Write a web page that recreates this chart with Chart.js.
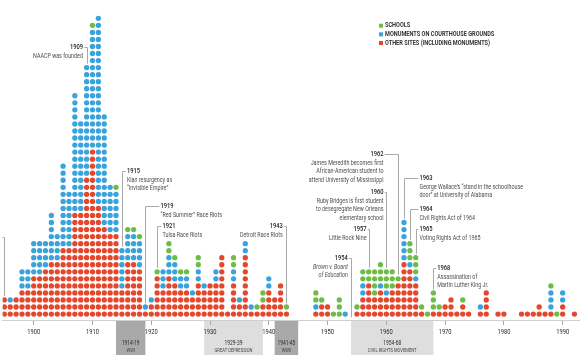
<!DOCTYPE html>
<html>
<head>
<meta charset="utf-8">
<script src="https://cdn.jsdelivr.net/npm/chart.js@4.4.1/dist/chart.umd.min.js"></script>
<style>
html,body{margin:0;padding:0;background:#ffffff;overflow:hidden;}
canvas{display:block;}
</style>
</head>
<body>
<canvas id="chart" width="582" height="360"></canvas>
<script>
// ---------------- DATA ----------------
const years = [1895,1896,1897,1898,1899,
  1900,1901,1902,1903,1904,1905,1906,1907,1908,1909,
  1910,1911,1912,1913,1914,1915,1916,1917,1918,1919,
  1920,1921,1922,1923,1924,1925,1926,1927,1928,1929,
  1930,1931,1932,1933,1934,1935,1936,1937,1938,1939,
  1940,1941,1942,1943,1944,1945,1946,1947,1948,1949,
  1950,1951,1952,1953,1954,1955,1956,1957,1958,1959,
  1960,1961,1962,1963,1964,1965,1966,1967,1968,1969,
  1970,1971,1972,1973,1974,1975,1976,1977,1978,1979,
  1980,1981,1982,1983,1984,1985,1986,1987,1988,1989,
  1990,1991,1992];
const otherSites = [3,2,3,4,4,
  6,6,7,8,8,10,10,15,15,20,
  24,16,13,12,12,4,8,8,7,1,
  2,6,4,6,5,4,4,3,5,4,
  5,5,9,1,5,2,9,1,1,2,
  4,3,5,1,0,0,0,0,1,2,
  2,0,0,0,0,1,3,5,3,4,
  3,4,5,8,7,5,1,0,1,1,
  2,3,1,2,1,0,1,4,0,1,
  1,0,0,1,1,1,2,1,1,0,
  2,0,1];
const courthouse = [0,1,0,3,3,
  5,5,4,7,4,12,8,17,13,16,
  17,27,16,7,6,6,4,4,4,1,
  1,0,3,3,3,2,2,1,2,1,
  0,2,0,0,2,1,2,1,0,0,
  2,0,0,0,0,0,0,0,1,0,
  0,0,0,1,0,0,2,0,0,1,
  1,0,0,6,1,1,0,0,0,0,
  0,0,0,0,0,0,1,0,0,0,
  0,0,0,0,0,0,0,0,3,0,
  2,0,0];
const schools = [0,0,0,0,0,
  0,0,0,0,0,0,0,0,0,0,
  1,0,0,0,1,0,1,1,1,0,
  0,1,0,2,1,1,1,0,2,0,
  0,0,0,0,2,0,0,0,1,2,
  0,0,0,1,0,0,0,0,2,1,
  0,1,3,0,0,1,2,2,4,3,
  3,3,1,0,3,3,1,1,3,1,
  0,0,0,1,0,0,0,0,0,0,
  0,0,0,0,0,0,0,0,1,1,
  0,0,0];
const tickYears = [1900,1910,1920,1930,1940,1950,1960,1970,1980,1990];
const seriesNames = ['SCHOOLS','MONUMENTS ON COURTHOUSE GROUNDS','OTHER SITES (INCLUDING MONUMENTS)'];
const periodRanges = ['1914-19','1929-39','1941-45','1954-68'];
const periodNames = ['WWI','GREAT DEPRESSION','WWII','CIVIL RIGHTS MOVEMENT'];
const periodStart = [1914,1929,1941,1954];
const periodEnd = [1919,1939,1945,1968];
const eventYears = [1895,1909,1915,1919,1921,1943,1954,1957,1960,1962,1963,1964,1965,1968];
const eventTitles = ['','1909','1915','1919','1921','1943','1954','1957','1960','1962','1963','1964','1965','1968'];
const eventTexts = [
  [],
  ['NAACP was founded'],
  ['Klan resurgency as','“Invisible Empire”'],
  ['“Red Summer” Race Riots'],
  ['Tulsa Race Riots'],
  ['Detroit Race Riots'],
  ['Brown v. Board','of Education'],
  ['Little Rock Nine'],
  ['Ruby Bridges is first student','to desegregate New Orleans','elementary school'],
  ['James Meredith becomes first','African-American student to','attend University of Mississippi'],
  ['George Wallace’s “stand in the schoolhouse','door” at University of Alabama'],
  ['Civil Rights Act of 1964'],
  ['Voting Rights Act of 1965'],
  ['Assassination of','Martin Luther King Jr.']
];

// ---------------- STYLE / LAYOUT ----------------
const C_GREEN = '#6cbd45', C_BLUE = '#38a3dc', C_RED = '#e4472c';
const FAM = 'Roboto, "Liberation Sans", sans-serif';
// side: -1 text left of the leader line, +1 right; gap in px; level = title height in dot rows
const eventLayout = {
  1895:{side:-1,gap:3,level:12.0},
  1909:{side:-1,gap:4.5,level:38.9},
  1915:{side:1,gap:4.4,level:21.3},
  1919:{side:1,gap:15,level:16.35},
  1921:{side:1,gap:5,level:13.5},
  1943:{side:-1,gap:3.7,level:13.5},
  1954:{side:-1,gap:3.7,level:9.0,italic:true},
  1957:{side:-1,gap:3,level:13.1},
  1960:{side:-1,gap:3,level:18.3},
  1962:{side:-1,gap:15,level:23.8},
  1963:{side:1,gap:15,level:20.3},
  1964:{side:1,gap:9,level:15.9},
  1965:{side:1,gap:3,level:13.1},
  1968:{side:1,gap:3.7,level:7.6}
};

function txt(ctx, s, x, y, align, size, weight, color, sx, italic){
  ctx.save();
  ctx.translate(x, y);
  ctx.scale(sx, 1);
  ctx.font = (italic ? 'italic ' : '') + weight + ' ' + size + 'px ' + FAM;
  ctx.fillStyle = color;
  ctx.textAlign = align;
  ctx.textBaseline = 'middle';
  ctx.fillText(s, 0, 0);
  ctx.restore();
}

function stackPoints(which){
  const pts = [];
  years.forEach((yr, i) => {
    const r = otherSites[i], b = courthouse[i], g = schools[i];
    let from = 0, n = 0;
    if (which === 'other') { from = 0; n = r; }
    else if (which === 'court') { from = r; n = b; }
    else { from = r + b; n = g; }
    for (let k = 1; k <= n; k++) pts.push({x: yr, y: from + k});
  });
  return pts;
}

const periodPlugin = {
  id: 'periods',
  beforeDraw(chart){
    const ctx = chart.ctx, xs = chart.scales.x, top = chart.chartArea.bottom;
    periodRanges.forEach((rng, i) => {
      const x1 = xs.getPixelForValue(periodStart[i]);
      const x2 = xs.getPixelForValue(periodEnd[i]);
      const dark = (i === 0 || i === 2);
      ctx.fillStyle = dark ? '#a9a9a9' : '#dedede';
      ctx.fillRect(x1, top, x2 - x1, 35);
      const cx = (x1 + x2) / 2;
      txt(ctx, rng, cx, top + 23, 'center', 6.8, 400, '#2a2a2a', 0.72);
      txt(ctx, periodNames[i], cx, top + 31, 'center', 4.8, 400, '#444', 0.86);
    });
  }
};

const tickLabelPlugin = {
  id: 'tickLabels',
  afterDraw(chart){
    const ctx = chart.ctx, xs = chart.scales.x, top = chart.chartArea.bottom;
    xs.ticks.forEach(t => {
      txt(ctx, String(t.value), xs.getPixelForValue(t.value), top + 11.5, 'center', 8, 400, '#2a2a2a', 0.72);
    });
  }
};

const annotationPlugin = {
  id: 'events',
  afterDatasetsDraw(chart){
    const ctx = chart.ctx, xs = chart.scales.x, ys = chart.scales.y;
    eventYears.forEach((yr, i) => {
      const L = eventLayout[yr];
      const idx = years.indexOf(yr);
      const total = otherSites[idx] + courthouse[idx] + schools[idx];
      const lx = Math.round(xs.getPixelForValue(yr)) + 0.5;
      const ty = Math.round(ys.getPixelForValue(L.level)) + 0.5;
      const bottom = ys.getPixelForValue(total + 0.55);
      ctx.save();
      ctx.strokeStyle = '#a9a9a9';
      ctx.lineWidth = 1;
      ctx.beginPath();
      ctx.moveTo(lx + L.side * (L.gap - 1.2), ty);
      ctx.lineTo(lx, ty);
      ctx.lineTo(lx, bottom);
      ctx.stroke();
      ctx.restore();
      const tx = lx + L.side * L.gap;
      const align = L.side < 0 ? 'right' : 'left';
      if (eventTitles[i]) txt(ctx, eventTitles[i], tx, ty, align, 7.2, 500, '#222', 0.8);
      eventTexts[i].forEach((line, j) => {
        txt(ctx, line, tx, ty + 8.5 * (j + 1), align, 6.9, 400, '#4d4d4d', 0.78, L.italic);
      });
    });
  }
};

const legendPlugin = {
  id: 'legendBox',
  afterDraw(chart){
    const ctx = chart.ctx;
    const ds = chart.data.datasets;
    [2, 1, 0].forEach((d, j) => {
      const y = 25.7 + j * 8.65;
      ctx.fillStyle = ds[d].backgroundColor;
      ctx.fillRect(379, y - 2, 4, 4);
      txt(ctx, ds[d].label, 385, y, 'left', 6.5, 700, '#333', 0.86);
    });
  }
};

new Chart(document.getElementById('chart'), {
  type: 'scatter',
  data: {
    datasets: [
      {label: seriesNames[2], data: stackPoints('other'), backgroundColor: C_RED, pointRadius: 2.65, pointBorderWidth: 0, pointHoverRadius: 2.65},
      {label: seriesNames[1], data: stackPoints('court'), backgroundColor: C_BLUE, pointRadius: 2.65, pointBorderWidth: 0, pointHoverRadius: 2.65},
      {label: seriesNames[0], data: stackPoints('schools'), backgroundColor: C_GREEN, pointRadius: 2.65, pointBorderWidth: 0, pointHoverRadius: 2.65}
    ]
  },
  options: {
    responsive: false,
    animation: false,
    devicePixelRatio: 1,
    layout: {padding: 0},
    events: [],
    plugins: {legend: {display: false}, tooltip: {enabled: false}},
    scales: {
      x: {
        type: 'linear', min: 1894.713, max: 1992.84,
        afterBuildTicks: s => { s.ticks = tickYears.map(v => ({value: v})); },
        afterFit: s => { s.height = 40; },
        border: {display: true, color: '#cfcfcf', width: 1},
        grid: {display: true, drawOnChartArea: false, drawTicks: true, tickLength: 5, tickColor: '#a6a6a6', color: '#a6a6a6'},
        ticks: {display: false}
      },
      y: {type: 'linear', display: false, min: 0.155, max: 45.225}
    }
  },
  plugins: [periodPlugin, annotationPlugin, legendPlugin, tickLabelPlugin]
});
</script>
</body>
</html>
